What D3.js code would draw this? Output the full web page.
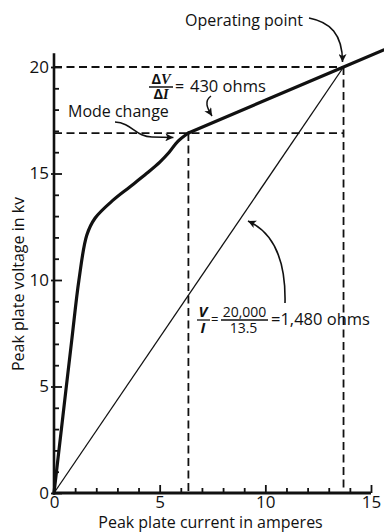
<!DOCTYPE html>
<html>
<head>
<meta charset="utf-8">
<script src="https://cdn.jsdelivr.net/npm/d3@7"></script>
<style>
  html, body { margin: 0; padding: 0; background: #fff; }
  svg { display: block; }
  text { font-family: "Open Sans", "Liberation Sans", sans-serif; fill: #111; }
</style>
</head>
<body>
<div id="chart"></div>
<script>
// ---------------- data ----------------
// Characteristic curve: peak plate current (A) vs peak plate voltage (kV)
const currentA  = [0, 0.42, 0.84, 1.18, 1.55, 1.94, 2.81, 3.60, 4.39, 5.02, 5.45, 5.85, 6.36, 13.7, 15.6];
const voltageKV = [0, 3.6, 7.18, 10.0, 12.1, 12.9, 13.76, 14.38, 15.01, 15.55, 16.0, 16.5, 16.9, 20.0, 20.8];
const modeChangeIndex = 12;          // point where the mode change occurs
const operatingPoint = [13.7, 20];   // [current A, voltage kV]
const modeChange = [6.36, 16.9];
const xTicksMajor = [0, 5, 10, 15];
const yTicksMajor = [0, 5, 10, 15, 20];
const xTicksMinor = [1, 2, 3, 4, 6, 7, 8, 9, 11, 12, 13, 14];
const yTicksMinor = [1, 2, 3, 4, 6, 7, 8, 9, 11, 12, 13, 14, 16, 17, 18, 19];

// ---------------- layout ----------------
const W = 384, H = 532;
const svg = d3.select("#chart").append("svg").attr("width", W).attr("height", H);

const x = d3.scaleLinear().domain([0, 15]).range([54, 371]);
const y = d3.scaleLinear().domain([0, 20]).range([493, 67]);

const defs = svg.append("defs");
defs.append("marker")
  .attr("id", "ah").attr("viewBox", "0 0 10 10")
  .attr("refX", 10).attr("refY", 5)
  .attr("markerWidth", 9).attr("markerHeight", 8)
  .attr("markerUnits", "userSpaceOnUse")
  .attr("orient", "auto")
  .append("path").attr("d", "M0,0 L10,5 L0,10 L2.5,5 z").attr("fill", "#111");

// ---------------- dashed guide lines ----------------
const dash = "8,4.5";
const guides = [
  [[0, operatingPoint[1]], operatingPoint],
  [[0, modeChange[1]], [operatingPoint[0], modeChange[1]]],
  [[modeChange[0], modeChange[1]], [modeChange[0], 0]],
  [operatingPoint, [operatingPoint[0], 0]]
];
svg.append("g").selectAll("line").data(guides).join("line")
  .attr("x1", d => x(d[0][0])).attr("y1", d => y(d[0][1]))
  .attr("x2", d => x(d[1][0])).attr("y2", d => y(d[1][1]))
  .attr("stroke", "#111").attr("stroke-width", 1.8)
  .attr("stroke-dasharray", dash);

// ---------------- thin load line V/I ----------------
svg.append("line")
  .attr("x1", x(0)).attr("y1", y(0))
  .attr("x2", x(operatingPoint[0])).attr("y2", y(operatingPoint[1]))
  .attr("stroke", "#111").attr("stroke-width", 1.3);

// ---------------- thick characteristic ----------------
const pts = currentA.map((c, i) => [c, voltageKV[i]]);
const curvePart = pts.slice(0, modeChangeIndex + 1);
const straightPart = pts.slice(modeChangeIndex);
svg.append("path")
  .attr("d", d3.line().x(d => x(d[0])).y(d => y(d[1])).curve(d3.curveCatmullRom.alpha(0.5))(curvePart))
  .attr("fill", "none").attr("stroke", "#111").attr("stroke-width", 3.2)
  .attr("stroke-linejoin", "round").attr("stroke-linecap", "round");
svg.append("path")
  .attr("d", d3.line().x(d => x(d[0])).y(d => y(d[1]))(straightPart))
  .attr("fill", "none").attr("stroke", "#111").attr("stroke-width", 3.2)
  .attr("stroke-linecap", "round");

// ---------------- axes ----------------
function clean(g) { g.select(".domain").remove(); }
// y axis
const yAxisG = svg.append("g").attr("transform", `translate(${x(0)},0)`);
yAxisG.call(d3.axisLeft(y).tickValues(yTicksMinor).tickSize(-5).tickFormat(""))
  .call(clean);
yAxisG.selectAll("line").attr("stroke", "#111").attr("stroke-width", 1.8);
const yAxisM = svg.append("g").attr("transform", `translate(${x(0)},0)`);
yAxisM.call(d3.axisLeft(y).tickValues(yTicksMajor).tickSize(-8).tickPadding(5).tickFormat(d3.format("d")))
  .call(clean);
yAxisM.selectAll("line").attr("stroke", "#111").attr("stroke-width", 1.8).attr("x1", -3);
yAxisM.selectAll("text").attr("font-size", 17).attr("font-family", "Open Sans").attr("fill", "#111");

// x axis
const xAxisG = svg.append("g").attr("transform", `translate(0,${y(0)})`);
xAxisG.call(d3.axisBottom(x).tickValues(xTicksMinor).tickSize(-5).tickFormat(""))
  .call(clean);
xAxisG.selectAll("line").attr("stroke", "#111").attr("stroke-width", 1.8);
const xAxisM = svg.append("g").attr("transform", `translate(0,${y(0)})`);
xAxisM.call(d3.axisBottom(x).tickValues(xTicksMajor).tickSize(-8).tickPadding(3).tickFormat(d3.format("d")))
  .call(clean);
xAxisM.selectAll("line").attr("stroke", "#111").attr("stroke-width", 1.8);
xAxisM.selectAll("text").attr("font-size", 17).attr("font-family", "Open Sans").attr("fill", "#111");

// axis lines
svg.append("line").attr("x1", x(0)).attr("x2", x(0)).attr("y1", y(0) + 1.5).attr("y2", y(20.65))
  .attr("stroke", "#111").attr("stroke-width", 2.6);
svg.append("line").attr("x1", x(0) - 1.3).attr("x2", x(15)).attr("y1", y(0)).attr("y2", y(0))
  .attr("stroke", "#111").attr("stroke-width", 3);

// axis titles
svg.append("text").attr("x", (x(0) + x(15)) / 2 - 2).attr("y", 528)
  .attr("text-anchor", "middle").attr("font-size", 16)
  .text("Peak plate current in amperes");
svg.append("text").attr("transform", `translate(24,${284}) rotate(-90)`)
  .attr("text-anchor", "middle").attr("font-size", 16)
  .text("Peak plate voltage in kv");

// ---------------- annotations ----------------
const ann = svg.append("g");
// Operating point
ann.append("text").attr("x", 185).attr("y", 26).attr("font-size", 16).text("Operating point");
ann.append("path")
  .attr("d", `M309,18 C330,22 ${x(operatingPoint[0]) - 1},34 ${x(operatingPoint[0]) - 1},${y(operatingPoint[1]) - 5}`)
  .attr("fill", "none").attr("stroke", "#111").attr("stroke-width", 1.6).attr("marker-end", "url(#ah)");

// ΔV/ΔI = 430 ohms
ann.append("text").attr("x", 161).attr("y", 84).attr("text-anchor", "middle")
  .attr("font-size", 14.5).attr("font-weight", "bold")
  .call(t => { t.append("tspan").text("Δ"); t.append("tspan").attr("font-family", "Liberation Serif").attr("font-style", "italic").text("V"); });
ann.append("line").attr("x1", 149).attr("x2", 173).attr("y1", 87).attr("y2", 87)
  .attr("stroke", "#111").attr("stroke-width", 1.5);
ann.append("text").attr("x", 161).attr("y", 99).attr("text-anchor", "middle")
  .attr("font-size", 14.5).attr("font-weight", "bold")
  .call(t => { t.append("tspan").text("Δ"); t.append("tspan").attr("font-family", "Liberation Serif").attr("font-style", "italic").text("I"); });
ann.append("text").attr("x", 175).attr("y", 92).attr("font-size", 16).text("=");
ann.append("text").attr("x", 190).attr("y", 92).attr("font-size", 16.5).text("430 ohms");
ann.append("path").attr("d", "M211,96 C204,101 207,108 212,116")
  .attr("fill", "none").attr("stroke", "#111").attr("stroke-width", 1.5).attr("marker-end", "url(#ah)");

// Mode change
ann.append("text").attr("x", 68).attr("y", 117).attr("font-size", 16).text("Mode change");
ann.append("path").attr("d", `M115,122 C132,123 136,137 152,137 L${x(modeChange[0]) - 15},137.5`)
  .attr("fill", "none").attr("stroke", "#111").attr("stroke-width", 1.5).attr("marker-end", "url(#ah)");

// V/I = 20,000/13.5 = 1,480 ohms
ann.append("text").attr("x", 203).attr("y", 317).attr("text-anchor", "middle")
  .attr("font-size", 15).attr("font-family", "Liberation Serif").attr("font-style", "italic").attr("font-weight", "bold").text("V");
ann.append("line").attr("x1", 197).attr("x2", 210).attr("y1", 320).attr("y2", 320).attr("stroke", "#111").attr("stroke-width", 1.3);
ann.append("text").attr("x", 203).attr("y", 333).attr("text-anchor", "middle")
  .attr("font-size", 15).attr("font-family", "Liberation Serif").attr("font-style", "italic").attr("font-weight", "bold").text("I");
ann.append("text").attr("x", 211).attr("y", 324).attr("font-size", 13).text("=");
ann.append("text").attr("x", 244.5).attr("y", 317).attr("text-anchor", "middle").attr("font-size", 14).text("20,000");
ann.append("line").attr("x1", 221).attr("x2", 268).attr("y1", 320).attr("y2", 320).attr("stroke", "#111").attr("stroke-width", 1.3);
ann.append("text").attr("x", 243.5).attr("y", 333).attr("text-anchor", "middle").attr("font-size", 14).text("13.5");
ann.append("text").attr("x", 271).attr("y", 325).attr("font-size", 16.5).text("=1,480 ohms");
ann.append("path").attr("d", "M285,303 C286,258 272,232 248,221")
  .attr("fill", "none").attr("stroke", "#111").attr("stroke-width", 1.6).attr("marker-end", "url(#ah)");
</script>
</body>
</html>
